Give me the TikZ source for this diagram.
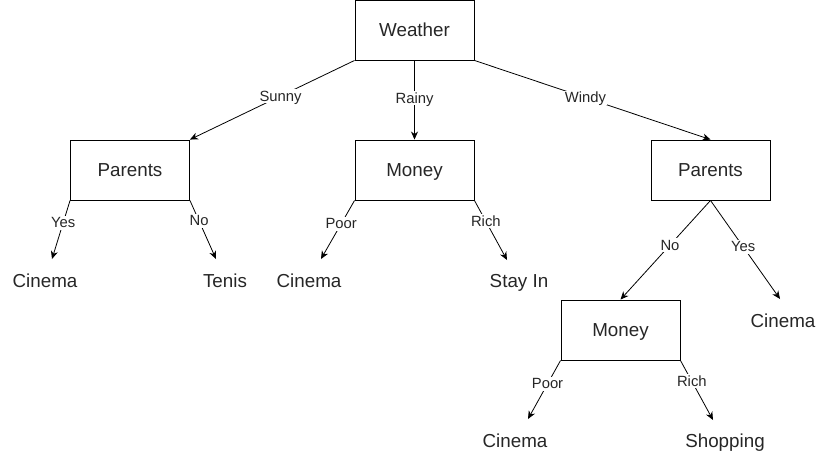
\documentclass[tikz,border=0pt]{standalone}
\usepackage{fontspec}
\setmainfont{Liberation Sans}
\usetikzlibrary{arrows.meta}
\begin{document}
\begin{tikzpicture}[x=1pt,y=-1pt,
  box/.style={draw, line width=0.9pt, minimum width=119pt, minimum height=60pt, inner sep=0pt, text height=14pt, text depth=2pt, font=\fontsize{18.8}{20}\selectfont, text=black!85},
  leaf/.style={inner sep=0pt, text height=14pt, text depth=2pt, font=\fontsize{18.8}{20}\selectfont, text=black!85},
  edge/.style={line width=0.8pt, -{Stealth[length=8pt,width=7pt,inset=2.5pt]}},
  lbl/.style={fill=white, inner sep=1pt, text height=11pt, text depth=1pt, font=\fontsize{14.8}{16}\selectfont, text=black!85}]
\useasboundingbox (0,0) rectangle (827,461);
\node[box] (w) at (414.5,30) {Weather};
\node[box] (pl) at (130,170) {Parents};
\node[box] (mm) at (414.5,170) {Money};
\node[box] (pr) at (710.5,170) {Parents};
\node[box] (mb) at (620.5,330) {Money};
\node[leaf] (l1) at (45,281) {Cinema};
\node[leaf] (l2) at (225,281) {Tenis};
\node[leaf] (l3) at (309,281) {Cinema};
\node[leaf] (l4) at (519,281) {Stay In};
\node[leaf] (l5) at (783,321) {Cinema};
\node[leaf] (l6) at (515,441) {Cinema};
\node[leaf] (l7) at (725,441) {Shopping};
\coordinate (e1) at (52,259);
\coordinate (e2) at (216,259);
\coordinate (e3) at (321,259);
\coordinate (e4) at (507,260);
\coordinate (e5) at (780,299);
\coordinate (e6) at (528,419);
\coordinate (e7) at (713,420);
\draw[edge] (w.south west) -- node[lbl, pos=0.45] {Sunny} (pl.north east);
\draw[edge] (w.south) -- node[lbl, pos=0.48] {Rainy} (mm.north);
\draw[edge] (w.south east) -- node[lbl, pos=0.47] {Windy} (pr.north);
\draw[edge] (pl.south west) -- node[lbl, pos=0.38] {Yes} (e1);
\draw[edge] (pl.south east) -- node[lbl, pos=0.35] {No} (e2);
\draw[edge] (mm.south west) -- node[lbl, pos=0.4] {Poor} (e3);
\draw[edge] (mm.south east) -- node[lbl, pos=0.35] {Rich} (e4);
\draw[edge] (pr.south) -- node[lbl, pos=0.45] {No} (mb.north);
\draw[edge] (pr.south) -- node[lbl, pos=0.47] {Yes} (e5);
\draw[edge] (mb.south west) -- node[lbl, pos=0.4] {Poor} (e6);
\draw[edge] (mb.south east) -- node[lbl, pos=0.35] {Rich} (e7);
\end{tikzpicture}
\end{document}
